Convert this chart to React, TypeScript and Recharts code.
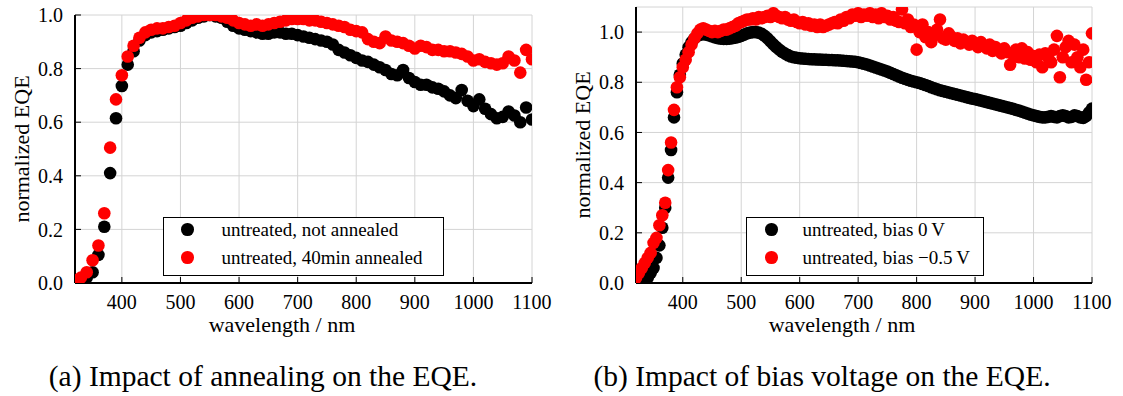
import React from 'react';
import { ScatterChart, Scatter, XAxis, YAxis, CartesianGrid } from 'recharts';

const FONT = '"Liberation Serif", "Times New Roman", serif';
const BLACK = '#000000';
const RED = '#ff0000';

// (a) annealing, 10 nm steps
const wavelengthA = [
  320, 330, 340, 350, 360, 370, 380, 390,
  400, 410, 420, 430, 440, 450, 460, 470, 480, 490,
  500, 510, 520, 530, 540, 550, 560, 570, 580, 590,
  600, 610, 620, 630, 640, 650, 660, 670, 680, 690,
  700, 710, 720, 730, 740, 750, 760, 770, 780, 790,
  800, 810, 820, 830, 840, 850, 860, 870, 880, 890,
  900, 910, 920, 930, 940, 950, 960, 970, 980, 990,
  1000, 1010, 1020, 1030, 1040, 1050, 1060, 1070, 1080, 1090,
  1100,
];
const notAnnealed = [
  0.005, 0.01, 0.02, 0.04, 0.105, 0.21, 0.41, 0.615,
  0.735, 0.815, 0.865, 0.905, 0.925, 0.935, 0.94, 0.945, 0.95, 0.955,
  0.96, 0.97, 0.98, 0.99, 0.995, 1.0, 0.995, 0.99, 0.975, 0.96,
  0.95, 0.945, 0.94, 0.935, 0.93, 0.93, 0.935, 0.935, 0.93, 0.93,
  0.925, 0.92, 0.915, 0.91, 0.905, 0.9, 0.89, 0.87, 0.86, 0.85,
  0.84, 0.83, 0.825, 0.815, 0.805, 0.795, 0.78, 0.775, 0.795, 0.765,
  0.75, 0.74, 0.74, 0.73, 0.725, 0.715, 0.7, 0.69, 0.72, 0.68,
  0.66, 0.685, 0.65, 0.63, 0.615, 0.62, 0.64, 0.625, 0.6, 0.655,
  0.61,
];
const annealed40min = [
  0.01, 0.02, 0.04, 0.085, 0.14, 0.26, 0.505, 0.685,
  0.775, 0.845, 0.885, 0.915, 0.935, 0.945, 0.95, 0.95, 0.955, 0.96,
  0.97, 0.98, 0.99, 0.995, 1.0, 1.0, 1.0, 0.995, 0.99, 0.98,
  0.97, 0.965, 0.96, 0.965, 0.96, 0.965, 0.97, 0.975, 0.98, 0.985,
  0.985, 0.985, 0.98, 0.98, 0.975, 0.97, 0.965, 0.96, 0.955, 0.945,
  0.94, 0.935, 0.91, 0.9, 0.895, 0.92, 0.905, 0.9, 0.895, 0.885,
  0.875, 0.885, 0.88, 0.87, 0.87, 0.865, 0.865, 0.86, 0.855, 0.845,
  0.83, 0.835, 0.825, 0.82, 0.815, 0.82, 0.845, 0.83, 0.785, 0.87,
  0.835,
];

// (b) bias voltage, 5 nm steps
const wavelengthB = [
  320, 325, 330, 335, 340, 345, 350, 355, 360, 365, 370, 375, 380, 385, 390, 395,
  400, 405, 410, 415, 420, 425, 430, 435, 440, 445, 450, 455, 460, 465, 470, 475, 480, 485, 490, 495,
  500, 505, 510, 515, 520, 525, 530, 535, 540, 545, 550, 555, 560, 565, 570, 575, 580, 585, 590, 595,
  600, 605, 610, 615, 620, 625, 630, 635, 640, 645, 650, 655, 660, 665, 670, 675, 680, 685, 690, 695,
  700, 705, 710, 715, 720, 725, 730, 735, 740, 745, 750, 755, 760, 765, 770, 775, 780, 785, 790, 795,
  800, 805, 810, 815, 820, 825, 830, 835, 840, 845, 850, 855, 860, 865, 870, 875, 880, 885, 890, 895,
  900, 905, 910, 915, 920, 925, 930, 935, 940, 945, 950, 955, 960, 965, 970, 975, 980, 985, 990, 995,
  1000, 1005, 1010, 1015, 1020, 1025, 1030, 1035, 1040, 1045, 1050, 1055, 1060, 1065, 1070, 1075, 1080, 1085, 1090, 1095,
  1100,
];
const bias0V = [
  0.0, 0.0, 0.005, 0.01, 0.02, 0.04, 0.06, 0.1, 0.15, 0.22, 0.3, 0.42, 0.53, 0.66, 0.76, 0.83,
  0.875, 0.91, 0.94, 0.96, 0.975, 0.985, 0.99, 0.992, 0.99, 0.987, 0.983, 0.979, 0.976, 0.974, 0.973, 0.973, 0.974, 0.976, 0.978, 0.981,
  0.985, 0.99, 0.995, 0.998, 1.0, 1.0, 0.998, 0.993, 0.985, 0.975, 0.963, 0.951, 0.94, 0.93, 0.921, 0.914, 0.908, 0.903, 0.9, 0.898,
  0.896, 0.895, 0.894, 0.893, 0.892, 0.892, 0.891, 0.891, 0.89, 0.89, 0.889, 0.889, 0.888, 0.888, 0.887, 0.886, 0.885, 0.884, 0.883, 0.882,
  0.88, 0.877, 0.874, 0.871, 0.867, 0.863, 0.859, 0.855, 0.851, 0.847, 0.843, 0.838, 0.833, 0.828, 0.823, 0.818, 0.814, 0.81, 0.806, 0.803,
  0.8, 0.797, 0.793, 0.789, 0.785, 0.78, 0.776, 0.772, 0.768, 0.765, 0.762, 0.759, 0.756, 0.753, 0.75, 0.747, 0.744, 0.741, 0.738, 0.735,
  0.733, 0.73, 0.727, 0.724, 0.721, 0.718, 0.715, 0.712, 0.709, 0.706, 0.703, 0.7, 0.697, 0.694, 0.69, 0.687, 0.683, 0.679, 0.675, 0.671,
  0.668, 0.665, 0.662, 0.66, 0.66, 0.662, 0.665, 0.662, 0.66, 0.665, 0.668, 0.665, 0.66, 0.662, 0.668, 0.665, 0.66, 0.658, 0.665, 0.68,
  0.695,
];
const biasMinus05V = [
  0.02, 0.04, 0.06, 0.08, 0.1, 0.12, 0.16, 0.18, 0.23, 0.27, 0.32, 0.45, 0.56, 0.69, 0.78, 0.82,
  0.86, 0.89, 0.92, 0.95, 0.975, 0.995, 1.01, 1.015, 1.01, 1.005, 1.0, 1.005, 1.0, 1.005, 1.01, 1.01, 1.015, 1.02, 1.025, 1.035,
  1.04, 1.045, 1.05, 1.05, 1.055, 1.05, 1.06, 1.055, 1.06, 1.065, 1.06, 1.075, 1.065, 1.06, 1.055, 1.06, 1.05, 1.045, 1.05, 1.04,
  1.035, 1.04, 1.03, 1.035, 1.025, 1.03, 1.02, 1.03, 1.02, 1.025, 1.03, 1.035, 1.04, 1.035, 1.05, 1.045, 1.06, 1.055, 1.07, 1.065,
  1.075, 1.06, 1.07, 1.065, 1.075, 1.06, 1.07, 1.055, 1.075, 1.06, 1.065, 1.05, 1.06, 1.045, 1.04, 1.09, 1.035, 1.05, 1.02, 1.03,
  0.93, 1.0, 1.03, 0.98, 1.0, 0.96, 0.99, 1.01, 1.05, 0.975, 0.97, 0.995, 0.98, 0.965, 0.975, 0.955, 0.97, 0.96, 0.95, 0.965,
  0.955, 0.94, 0.96, 0.945, 0.935, 0.95, 0.925, 0.94, 0.93, 0.915, 0.935, 0.92, 0.87, 0.91, 0.93, 0.9, 0.935, 0.895, 0.92, 0.89,
  0.905, 0.88, 0.91, 0.86, 0.915, 0.9, 0.88, 0.93, 0.985, 0.82, 0.9, 0.94, 0.965, 0.88, 0.95, 0.9, 0.86, 0.93, 0.81, 0.88,
  0.995,
];

const xTicks = [400, 500, 600, 700, 800, 900, 1000, 1100];
const yTicks = [0, 0.2, 0.4, 0.6, 0.8, 1.0];

const toPoints = (xs: number[], ys: number[]) => xs.map((x, i) => ({ x, y: ys[i] }));

const CHART_H = 340;
const PLOT_BOTTOM = 283;
const X_AXIS_H = 49;

const tickStyle = { fill: BLACK, fontSize: 20, fontFamily: FONT };
const frame = { stroke: BLACK, strokeWidth: 2 };
const tickLine = { stroke: BLACK, strokeWidth: 1 };

const dot = (color: string) => (p: any) =>
  p.cx == null ? <g /> : <circle cx={p.cx} cy={p.cy} r={6.3} fill={color} />;

interface SeriesDef {
  name: string;
  color: string;
  data: { x: number; y: number }[];
}

interface PanelProps {
  left: number;
  width: number;
  plotLeft: number;
  plotRight: number;
  plotTop: number;
  yMax: number;
  yTitleX: number;
  series: SeriesDef[];
  legend: { left: number; width: number; markerX: number; textX: number };
  caption: string;
  captionX: number;
}

function Panel(props: PanelProps) {
  const { left, width, plotLeft, plotRight, plotTop, yMax, yTitleX, series, legend, caption, captionX } = props;
  const midY = (plotTop + PLOT_BOTTOM) / 2;

  const xTitle = () => (
    <text x={282} y={332} textAnchor="middle" fontSize={22} fontFamily={FONT} fill={BLACK}>
      wavelength / nm
    </text>
  );
  const yTitle = () => (
    <text
      x={yTitleX}
      y={midY}
      transform={`rotate(-90 ${yTitleX} ${midY})`}
      textAnchor="middle"
      dominantBaseline="central"
      fontSize={22}
      fontFamily={FONT}
      fill={BLACK}
    >
      normalized EQE
    </text>
  );

  return (
    <div style={{ position: 'absolute', left, top: 0, width, height: 396 }}>
      <ScatterChart
        width={width}
        height={CHART_H}
        margin={{ top: plotTop, right: width - plotRight, bottom: CHART_H - PLOT_BOTTOM - X_AXIS_H, left: 0 }}
      >
        <CartesianGrid xAxisId="b" yAxisId="l" stroke="#d4d4d4" strokeWidth={1} />
        {series.map((s) => (
          <Scatter
            key={s.name}
            name={s.name}
            data={s.data}
            xAxisId="b"
            yAxisId="l"
            fill={s.color}
            shape={dot(s.color)}
            isAnimationActive={false}
          />
        ))}
        <XAxis
          xAxisId="b"
          type="number"
          dataKey="x"
          domain={[320, 1100]}
          ticks={xTicks}
          allowDataOverflow
          height={X_AXIS_H}
          tick={tickStyle}
          tickSize={-6}
          tickMargin={18}
          axisLine={frame}
          tickLine={tickLine}
          label={{ content: xTitle }}
        />
        <XAxis
          xAxisId="t"
          orientation="top"
          type="number"
          domain={[320, 1100]}
          ticks={xTicks}
          allowDataOverflow
          height={0}
          tick={false}
          tickSize={-6}
          axisLine={frame}
          tickLine={tickLine}
        />
        <YAxis
          yAxisId="l"
          type="number"
          dataKey="y"
          domain={[0, yMax]}
          ticks={yTicks}
          allowDataOverflow
          width={plotLeft}
          tick={tickStyle}
          tickSize={-6}
          tickMargin={18}
          tickFormatter={(v: number) => v.toFixed(1)}
          axisLine={frame}
          tickLine={tickLine}
          label={{ content: yTitle }}
        />
        <YAxis
          yAxisId="r"
          orientation="right"
          type="number"
          domain={[0, yMax]}
          ticks={yTicks}
          allowDataOverflow
          width={0}
          tick={false}
          tickSize={-6}
          axisLine={frame}
          tickLine={tickLine}
        />
      </ScatterChart>

      <div
        style={{
          position: 'absolute',
          left: legend.left,
          top: 217,
          width: legend.width,
          height: 59,
          boxSizing: 'border-box',
          border: `1.5px solid ${BLACK}`,
          background: '#fff',
          fontFamily: FONT,
          fontSize: 19,
          color: BLACK,
        }}
      >
        {series.map((s, i) => (
          <div key={s.name} style={{ position: 'absolute', left: 0, top: 11.5 + 28 * i - 14, height: 28, width: '100%' }}>
            <span
              style={{
                position: 'absolute',
                left: legend.markerX - legend.left - 1.5 - 6.3,
                top: 14 - 6.3,
                width: 12.6,
                height: 12.6,
                borderRadius: '50%',
                background: s.color,
              }}
            />
            <span
              style={{
                position: 'absolute',
                left: legend.textX - legend.left - 1.5,
                top: 0,
                lineHeight: '28px',
                whiteSpace: 'nowrap',
              }}
            >
              {s.name}
            </span>
          </div>
        ))}
      </div>

      <div
        style={{
          position: 'absolute',
          left: captionX - 300,
          width: 600,
          top: 361,
          textAlign: 'center',
          fontFamily: FONT,
          fontSize: 29.5,
          lineHeight: '30px',
          color: BLACK,
          whiteSpace: 'nowrap',
        }}
      >
        {caption}
      </div>
    </div>
  );
}

export default function App() {
  return (
    <div style={{ position: 'absolute', left: 0, top: 0, width: 1123, height: 396, background: '#fff', overflow: 'hidden' }}>
      <Panel
        left={0}
        width={560}
        plotLeft={75}
        plotRight={532}
        plotTop={15}
        yMax={1.0}
        yTitleX={21}
        series={[
          { name: 'untreated, not annealed', color: BLACK, data: toPoints(wavelengthA, notAnnealed) },
          { name: 'untreated, 40min annealed', color: RED, data: toPoints(wavelengthA, annealed40min) },
        ]}
        legend={{ left: 163, width: 281, markerX: 188, textX: 222 }}
        caption="(a) Impact of annealing on the EQE."
        captionX={263}
      />
      <Panel
        left={560}
        width={563}
        plotLeft={76}
        plotRight={532}
        plotTop={7}
        yMax={1.1}
        yTitleX={22}
        series={[
          { name: 'untreated, bias 0\u2009V', color: BLACK, data: toPoints(wavelengthB, bias0V) },
          { name: 'untreated, bias \u22120.5\u2009V', color: RED, data: toPoints(wavelengthB, biasMinus05V) },
        ]}
        legend={{ left: 186, width: 238, markerX: 212, textX: 243 }}
        caption="(b) Impact of bias voltage on the EQE."
        captionX={262}
      />
    </div>
  );
}
